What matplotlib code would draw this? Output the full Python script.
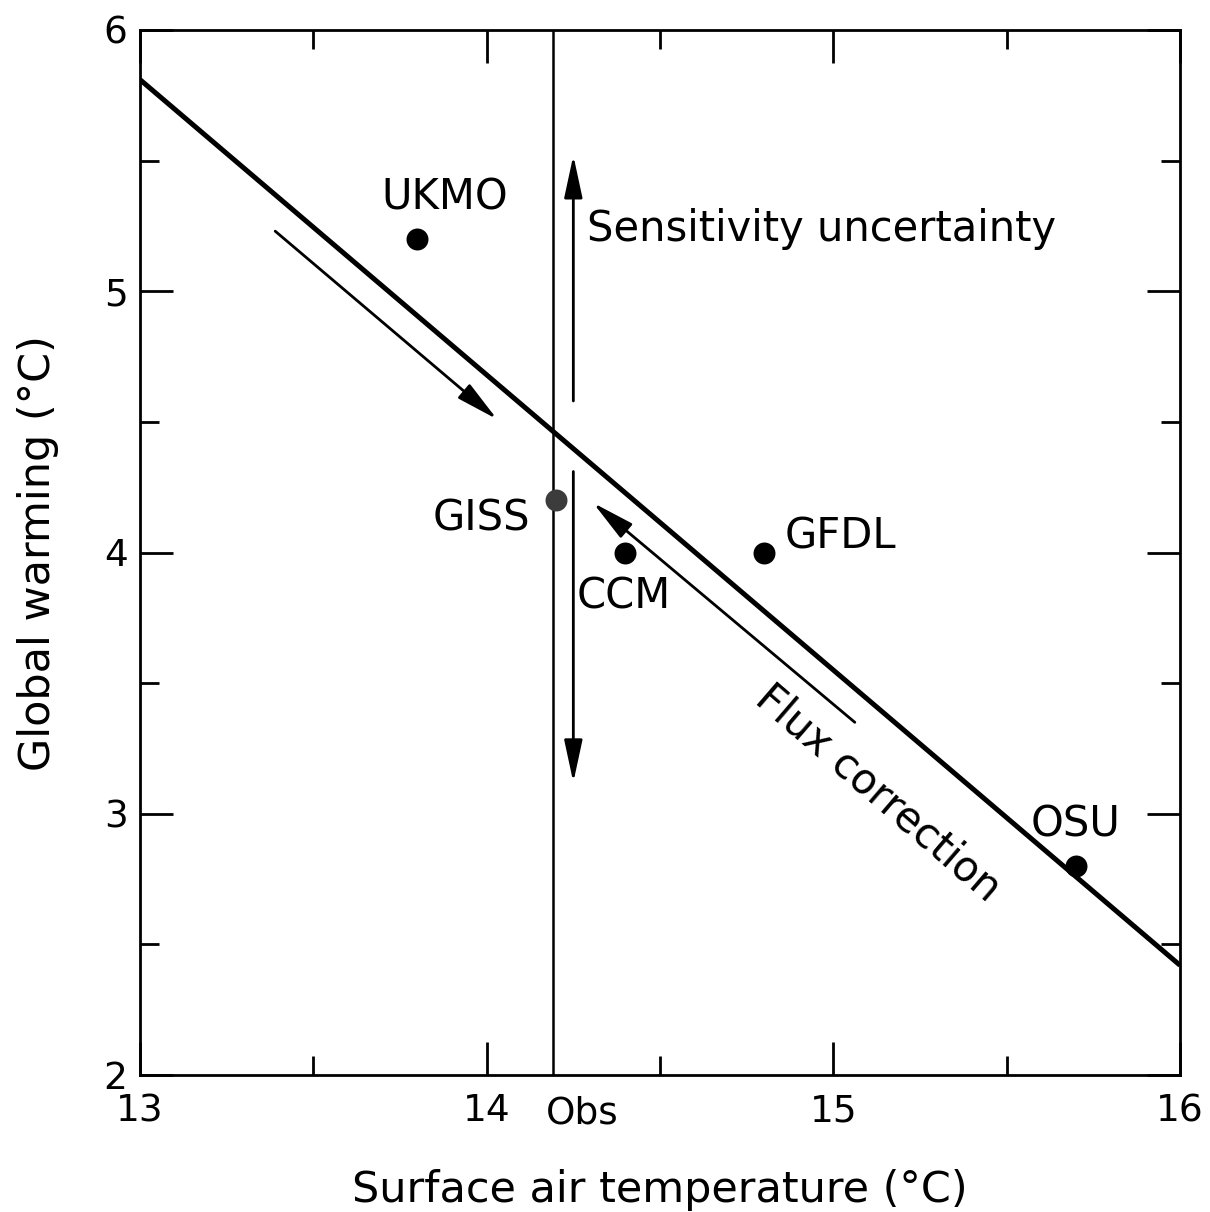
import matplotlib
matplotlib.use("Agg")
import matplotlib.pyplot as plt
from matplotlib.ticker import MultipleLocator

# Model results: surface air temperature vs. global warming
models = ["UKMO", "GISS", "CCM", "GFDL", "OSU"]
surface_temp = [13.80, 14.20, 14.40, 14.80, 15.70]
warming = [5.20, 4.20, 4.00, 4.00, 2.80]

# Fitted relationship between the two quantities
fit_x = [13.0, 16.0]
fit_y = [5.81, 2.42]

# Observed surface air temperature
obs_temp = 14.19

plt.rcParams["font.family"] = ["DejaVu Sans"]
FS_TICK = 27
FS_LABEL = 30
FS_AXIS = 31

fig = plt.figure(figsize=(12.1, 12.12), dpi=100)
ax = fig.add_axes([140 / 1210, 137 / 1212, 1040 / 1210, 1045 / 1212])

ax.set_xlim(13, 16)
ax.set_ylim(2, 6)

# Regression line and observation marker
ax.plot(fit_x, fit_y, color="black", lw=3.6, solid_capstyle="butt", zorder=3)
ax.axvline(obs_temp, color="black", lw=1.8, zorder=2)

# Model points
for name, xv, yv in zip(models, surface_temp, warming):
    col = "#3c3c3c" if name == "GISS" else "black"
    ax.scatter([xv], [yv], s=250, color=col, zorder=5, linewidths=0)

label_style = dict(fontsize=FS_LABEL, color="black")
ax.text(13.88, 5.36, "UKMO", ha="center", va="center", **label_style)
ax.text(14.125, 4.13, "GISS", ha="right", va="center", **label_style)
ax.text(14.26, 3.83, "CCM", ha="left", va="center", **label_style)
ax.text(14.86, 4.06, "GFDL", ha="left", va="center", **label_style)
ax.text(15.70, 2.96, "OSU", ha="center", va="center", **label_style)

# Arrows
arrow_kw = dict(arrowstyle="-|>,head_length=1.3,head_width=0.28",
                mutation_scale=20, lw=2.0, color="black",
                shrinkA=0, shrinkB=0)
ax.annotate("", xy=(14.03, 4.51), xytext=(13.39, 5.23), arrowprops=arrow_kw)
ax.annotate("", xy=(14.307, 4.19), xytext=(15.062, 3.35), arrowprops=arrow_kw)
ax.annotate("", xy=(14.25, 5.52), xytext=(14.25, 4.58), arrowprops=arrow_kw)
ax.annotate("", xy=(14.25, 3.12), xytext=(14.25, 4.31), arrowprops=arrow_kw)

ax.text(14.29, 5.24, "Sensitivity uncertainty", ha="left", va="center",
        **label_style)
ax.text(15.13, 3.08, "Flux correction", ha="center", va="center",
        rotation=-40.7, rotation_mode="anchor", **label_style)

# Axes frame and ticks
for sp in ax.spines.values():
    sp.set_linewidth(2.0)

ax.xaxis.set_major_locator(MultipleLocator(1))
ax.xaxis.set_minor_locator(MultipleLocator(0.5))
ax.yaxis.set_major_locator(MultipleLocator(1))
ax.yaxis.set_minor_locator(MultipleLocator(0.5))
ax.tick_params(which="both", direction="in", top=True, right=True,
               width=2.0, labelsize=FS_TICK)
ax.tick_params(which="major", length=24)
ax.tick_params(which="minor", length=14)
ax.tick_params(axis="x", which="major", pad=13)
ax.tick_params(axis="y", which="major", pad=9)

# Label for the observed value under the axis
ax.text(14.275, -0.02, "Obs", transform=ax.get_xaxis_transform(),
        ha="center", va="top", fontsize=FS_TICK)

fig.text(660 / 1210, 1 - 1190 / 1212, "Surface air temperature (°C)",
         ha="center", va="center", fontsize=FS_AXIS)
fig.text(38 / 1210, 1 - 553 / 1212, "Global warming (°C)",
         ha="center", va="center", rotation=90, fontsize=FS_AXIS)

fig.savefig("out.png", dpi=100, facecolor="white")
